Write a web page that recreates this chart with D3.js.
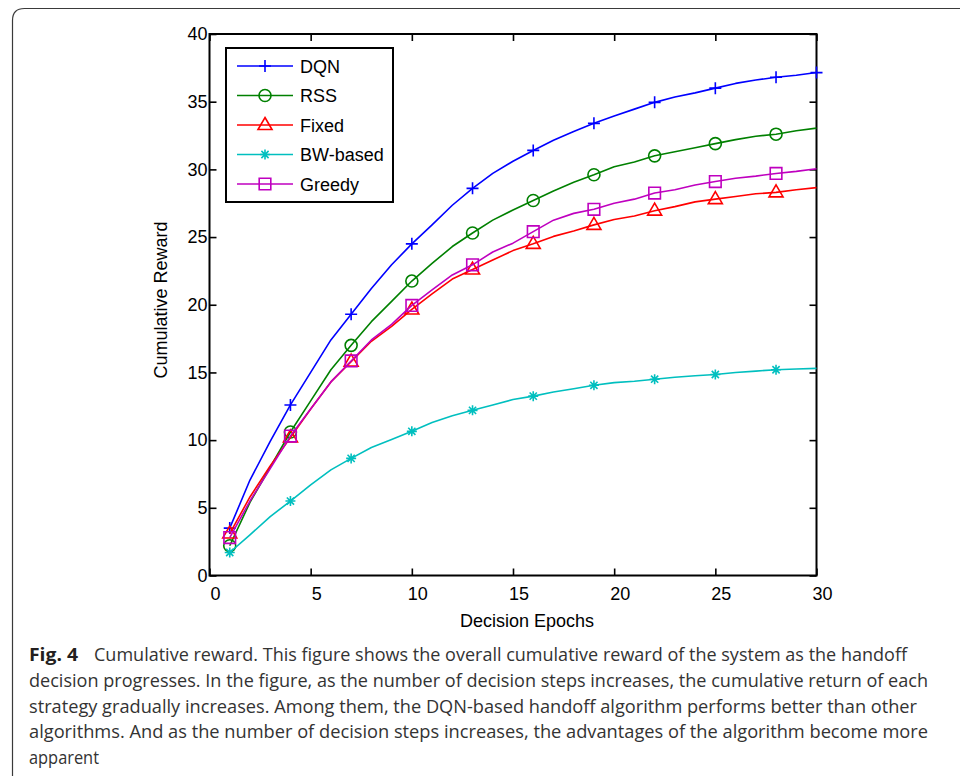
<!DOCTYPE html>
<html>
<head>
<meta charset="utf-8">
<script src="https://cdn.jsdelivr.net/npm/d3@7"></script>
<style>
  html, body { margin: 0; padding: 0; background: #fff; }
  svg { display: block; }
</style>
</head>
<body>
<div id="chart"></div>
<script>
//
// data
//
var epochs = d3.range(1, 31)
var dqn = [3.5, 7.05, 9.9, 12.6, 15.0, 17.4, 19.3, 21.2, 22.95, 24.5, 25.9, 27.35, 28.6, 29.7, 30.6, 31.4, 32.15, 32.8, 33.4, 33.95, 34.45, 34.95, 35.35, 35.65, 36.0, 36.35, 36.6, 36.8, 36.95, 37.15]
var rss = [2.2, 5.4, 8.0, 10.6, 12.9, 15.2, 17.0, 18.75, 20.25, 21.75, 23.05, 24.3, 25.3, 26.25, 27.0, 27.7, 28.4, 29.05, 29.6, 30.2, 30.55, 31.0, 31.3, 31.6, 31.9, 32.2, 32.45, 32.6, 32.85, 33.05]
var fixed = [3.1, 5.8, 8.1, 10.2, 12.3, 14.3, 15.8, 17.3, 18.4, 19.65, 20.8, 21.9, 22.6, 23.3, 24.0, 24.5, 25.05, 25.45, 25.9, 26.3, 26.55, 26.95, 27.25, 27.6, 27.8, 28.0, 28.2, 28.3, 28.5, 28.65]
var bw = [1.7, 3.0, 4.35, 5.5, 6.7, 7.8, 8.65, 9.45, 10.05, 10.65, 11.3, 11.8, 12.2, 12.6, 13.0, 13.25, 13.55, 13.8, 14.05, 14.25, 14.35, 14.5, 14.65, 14.75, 14.85, 15.0, 15.1, 15.2, 15.25, 15.3]
var greedy = [2.8, 5.5, 7.9, 10.3, 12.3, 14.3, 15.85, 17.4, 18.55, 19.95, 21.1, 22.2, 22.95, 23.9, 24.55, 25.4, 26.25, 26.75, 27.05, 27.5, 27.8, 28.25, 28.5, 28.85, 29.1, 29.35, 29.5, 29.7, 29.85, 30.05]
var names = ['DQN', 'RSS', 'Fixed', 'BW-based', 'Greedy']
var markEpochs = [1, 4, 7, 10, 13, 16, 19, 22, 25, 28]
var dqnMarkEpochs = [1, 4, 7, 10, 13, 16, 19, 22, 25, 28, 30]
var xTicks = [0, 5, 10, 15, 20, 25, 30]
var yTicks = [0, 5, 10, 15, 20, 25, 30, 35, 40]
var captionBold = 'Fig. 4'
var captionLines = [
  'Cumulative reward. This figure shows the overall cumulative reward of the system as the handoff',
  'decision progresses. In the figure, as the number of decision steps increases, the cumulative return of each',
  'strategy gradually increases. Among them, the DQN-based handoff algorithm performs better than other',
  'algorithms. And as the number of decision steps increases, the advantages of the algorithm become more',
  'apparent'
]
//
// styles
//
var colors = ['#0000ff', '#008000', '#ff0000', '#00bfbf', '#bf00bf']
var shapes = [
  'M-6,0H6M0,-6V6',
  'M6,0A6,6 0 1 1 -6,0A6,6 0 1 1 6,0Z',
  'M0,-7.5L7,4.5H-7Z',
  'M-5,0H5M0,-5V5M-3.6,-3.6L3.6,3.6M-3.6,3.6L3.6,-3.6',
  'M-5.8,-5.8H5.8V5.8H-5.8Z'
]
var series = [dqn, rss, fixed, bw, greedy].map(function(v, i) {
  return {
    name: names[i],
    color: colors[i],
    shape: shapes[i],
    points: epochs.map(function(e, j) { return {x: e, y: v[j]} }),
    marks: i == 0 ? dqnMarkEpochs : markEpochs
  }
})
//
// layout
//
var W = 960, H = 776
var pLeft = 209.5, pRight = 816.5, pTop = 34, pBottom = 575.5
var font = '"Liberation Sans", Arial, Helvetica, sans-serif'

var svg = d3.select('#chart').append('svg')
  .attr('width', W)
  .attr('height', H)

svg.append('rect').attr('width', W).attr('height', H).attr('fill', '#fff')

// page frame
svg.append('path')
  .attr('d', 'M12.5,' + H + 'V20.5Q12.5,8.5 24.5,8.5H' + W)
  .attr('fill', 'none')
  .attr('stroke', '#3a3a3a')
  .attr('stroke-width', 1.2)

var x = d3.scaleLinear().domain([0, 30]).range([pLeft, pRight])
var y = d3.scaleLinear().domain([0, 40]).range([pBottom, pTop])

//
// axes
//
function styleAxis(g) {
  g.attr('font-family', font).attr('font-size', 18)
  g.select('.domain').remove()
  g.selectAll('line').attr('stroke', '#000').attr('stroke-width', 1.6)
  g.selectAll('text').attr('fill', '#000')
}

svg.append('g')
  .attr('transform', 'translate(0,' + pBottom + ')')
  .call(d3.axisBottom(x).tickValues(xTicks).tickSizeInner(-7).tickSizeOuter(0).tickPadding(11.5))
  .call(styleAxis)
  .selectAll('text').attr('x', 5.5)

svg.append('g')
  .attr('transform', 'translate(0,' + pTop + ')')
  .call(d3.axisTop(x).tickValues(xTicks).tickSizeInner(-7).tickSizeOuter(0).tickFormat(''))
  .call(styleAxis)

svg.append('g')
  .attr('transform', 'translate(' + pLeft + ',0)')
  .call(d3.axisLeft(y).tickValues(yTicks).tickSizeInner(-7).tickSizeOuter(0).tickPadding(2))
  .call(styleAxis)

svg.append('g')
  .attr('transform', 'translate(' + pRight + ',0)')
  .call(d3.axisRight(y).tickValues(yTicks).tickSizeInner(-7).tickSizeOuter(0).tickFormat(''))
  .call(styleAxis)

// box
svg.append('rect')
  .attr('x', pLeft).attr('y', pTop)
  .attr('width', pRight - pLeft).attr('height', pBottom - pTop)
  .attr('fill', 'none')
  .attr('stroke', '#000')
  .attr('stroke-width', 2)

// axis titles
svg.append('text')
  .attr('x', 527).attr('y', 627)
  .attr('text-anchor', 'middle')
  .attr('font-family', font).attr('font-size', 18)
  .text('Decision Epochs')

svg.append('text')
  .attr('transform', 'translate(167,300) rotate(-90)')
  .attr('text-anchor', 'middle')
  .attr('font-family', font).attr('font-size', 18)
  .text('Cumulative Reward')

//
// lines and markers
//
var lineFunc = d3.line()
  .x(function(d) { return x(d.x) })
  .y(function(d) { return y(d.y) })

series.forEach(function(s) {
  svg.append('path')
    .attr('d', lineFunc(s.points))
    .attr('fill', 'none')
    .attr('stroke', s.color)
    .attr('stroke-width', 1.6)
    .attr('stroke-linejoin', 'round')

  svg.append('g').selectAll('path')
    .data(s.points.filter(function(p) { return s.marks.indexOf(p.x) >= 0 }))
    .join('path')
    .attr('transform', function(p) { return 'translate(' + x(p.x) + ',' + y(p.y) + ')' })
    .attr('d', s.shape)
    .attr('fill', 'none')
    .attr('stroke', s.color)
    .attr('stroke-width', 1.6)
})

//
// legend
//
var legend = svg.append('g')
legend.append('rect')
  .attr('x', 226).attr('y', 48)
  .attr('width', 167).attr('height', 154)
  .attr('fill', '#fff')
  .attr('stroke', '#000')
  .attr('stroke-width', 2)

series.forEach(function(s, i) {
  var ly = 66 + i * 29.5
  legend.append('line')
    .attr('x1', 237).attr('x2', 293)
    .attr('y1', ly).attr('y2', ly)
    .attr('stroke', s.color).attr('stroke-width', 1.6)
  legend.append('path')
    .attr('transform', 'translate(265,' + ly + ')')
    .attr('d', s.shape)
    .attr('fill', 'none')
    .attr('stroke', s.color).attr('stroke-width', 1.6)
  legend.append('text')
    .attr('x', 300).attr('y', ly + 6.5)
    .attr('font-family', font).attr('font-size', 18)
    .text(s.name)
})

//
// caption
//
var capFont = '"Open Sans", "Noto Sans", sans-serif'
var capWidths = [813, 899, 888, 899, 70]
var capStarts = [94, 29, 29, 29, 29]

svg.append('text')
  .attr('x', 29).attr('y', 661)
  .attr('font-family', capFont).attr('font-size', 18).attr('font-weight', 700)
  .attr('fill', '#231f20')
  .attr('textLength', 49).attr('lengthAdjust', 'spacingAndGlyphs')
  .text(captionBold)

captionLines.forEach(function(t, i) {
  svg.append('text')
    .attr('x', capStarts[i]).attr('y', 661 + i * 25.8)
    .attr('font-family', capFont).attr('font-size', 18)
    .attr('fill', '#333')
    .attr('textLength', capWidths[i]).attr('lengthAdjust', 'spacingAndGlyphs')
    .text(t)
})
</script>
</body>
</html>
